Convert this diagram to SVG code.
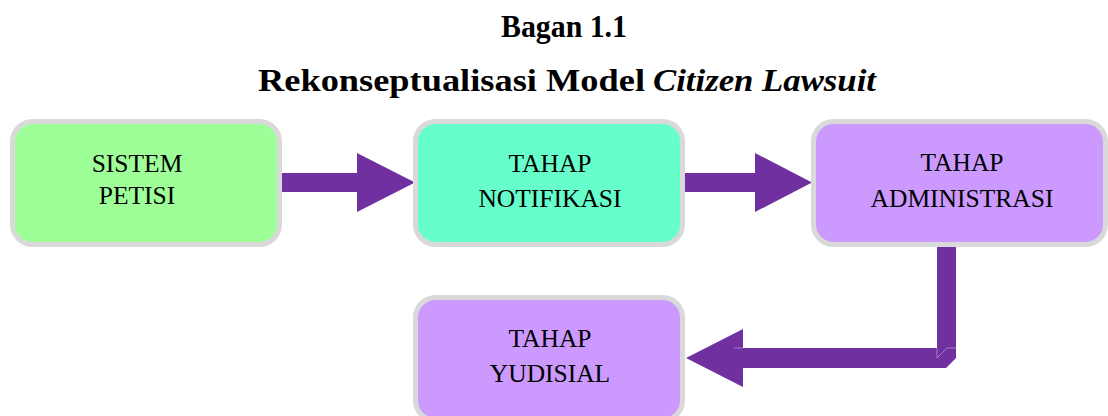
<svg xmlns="http://www.w3.org/2000/svg" width="1108" height="416" viewBox="0 0 1108 416">
  <style>
    .title { font-family: "Liberation Serif", "Times New Roman", serif; font-weight: bold; font-size: 31px; fill: #000; }
    .box { stroke: #d9d9d9; stroke-width: 5; }
    .lbl { font-family: "Liberation Serif", "Times New Roman", serif; font-size: 25.5px; fill: #000; text-anchor: middle; }
    .arrow { fill: #7030a0; }
    .edge { fill: none; stroke: #a27ec6; stroke-width: 1; }
  </style>
  <rect width="1108" height="416" fill="#ffffff"/>
  <g id="title">
    <text class="title" x="501" y="37" textLength="126" lengthAdjust="spacingAndGlyphs">Bagan 1.1</text>
    <text class="title" x="258" y="91" textLength="387" lengthAdjust="spacingAndGlyphs">Rekonseptualisasi Model</text>
    <text class="title" x="653" y="91" font-style="italic" textLength="223" lengthAdjust="spacingAndGlyphs">Citizen Lawsuit</text>
  </g>
  <g id="connectors">
    <polygon class="arrow" points="280,173 357,173 357,153 415,182.5 357,212 357,192 280,192"/>
    <polygon class="arrow" points="683,173 755,173 755,153 812,182.5 755,212 755,192 683,192"/>
    <polygon class="arrow" points="937,247 956,247 956,358 946,368 743,368 743,387 686,358 743,329 743,348 937,348"/>
    <path class="edge" d="M734,348 H743 M937,348 V358 L947,348 H956"/>
  </g>
  <g id="node-sistem-petisi">
    <rect class="box" x="12.5" y="121.5" width="267" height="123" rx="20" fill="#9eff98"/>
    <text class="lbl" x="137" y="171.5">SISTEM</text>
    <text class="lbl" x="137" y="204">PETISI</text>
  </g>
  <g id="node-tahap-notifikasi">
    <rect class="box" x="415.5" y="121.5" width="267" height="123" rx="20" fill="#66ffcc"/>
    <text class="lbl" x="550" y="171.5">TAHAP</text>
    <text class="lbl" x="550" y="206.5">NOTIFIKASI</text>
  </g>
  <g id="node-tahap-administrasi">
    <rect class="box" x="813.5" y="121.5" width="292" height="123" rx="20" fill="#cc99ff"/>
    <text class="lbl" x="962" y="171">TAHAP</text>
    <text class="lbl" x="962" y="206.5">ADMINISTRASI</text>
  </g>
  <g id="node-tahap-yudisial">
    <rect class="box" x="415.5" y="297.5" width="267" height="123" rx="20" fill="#cc99ff"/>
    <text class="lbl" x="550" y="346.5">TAHAP</text>
    <text class="lbl" x="550" y="381.5">YUDISIAL</text>
  </g>
</svg>
